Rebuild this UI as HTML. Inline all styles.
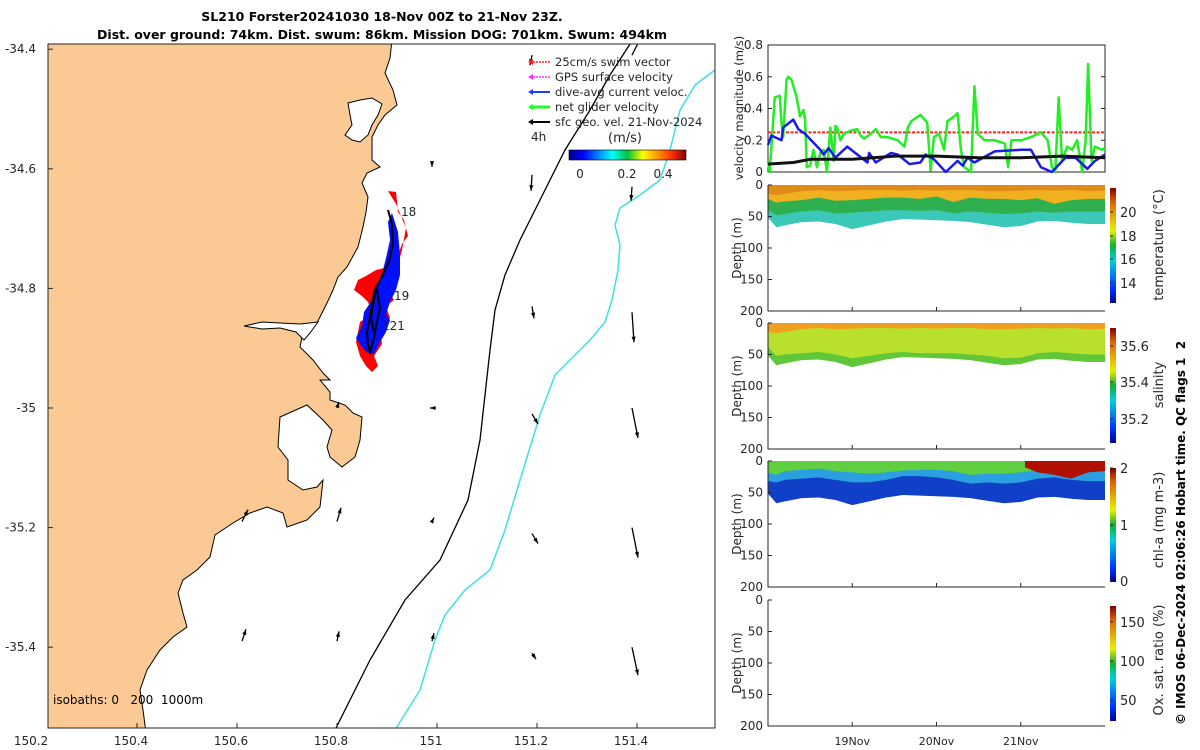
<!DOCTYPE html>
<html><head><meta charset="utf-8">
<style>
html,body{margin:0;padding:0;background:#fff;}
svg{display:block;font-family:"DejaVu Sans","Liberation Sans",sans-serif;}
text{fill:#262626;}
</style></head>
<body>
<svg id="fig" width="1200" height="750" viewBox="0 0 1200 750" xmlns="http://www.w3.org/2000/svg">
<defs>
<linearGradient id="jetH" x1="0" y1="0" x2="1" y2="0">
<stop offset="0" stop-color="#00008f"/><stop offset="0.12" stop-color="#0000ff"/><stop offset="0.37" stop-color="#00ffff"/><stop offset="0.5" stop-color="#00c040"/><stop offset="0.63" stop-color="#ffff00"/><stop offset="0.88" stop-color="#ff3000"/><stop offset="1" stop-color="#800000"/>
</linearGradient>
<linearGradient id="jetV" x1="0" y1="1" x2="0" y2="0">
<stop offset="0" stop-color="#00008f"/><stop offset="0.12" stop-color="#0030ff"/><stop offset="0.37" stop-color="#00d0e0"/><stop offset="0.5" stop-color="#10b030"/><stop offset="0.63" stop-color="#e8f000"/><stop offset="0.88" stop-color="#e06000"/><stop offset="1" stop-color="#800000"/>
</linearGradient>
</defs>

<text x="382" y="21" text-anchor="middle" font-size="12.5" font-weight="bold" style="fill:#000">SL210 Forster20241030 18-Nov 00Z to 21-Nov 23Z.</text>
<text x="382" y="39" text-anchor="middle" font-size="12.5" font-weight="bold" style="fill:#000">Dist. over ground: 74km. Dist. swum: 86km. Mission DOG: 701km. Swum: 494km</text>

<g id="map">
<clipPath id="mapclip"><rect x="48" y="44" width="667" height="684"/></clipPath>
<g clip-path="url(#mapclip)">
<polygon fill="#fbca94" stroke="#000" stroke-width="1" points="40,40 392,40 390,58 385,73 393,90 397,105 385,115 378,125 372,137 372,160 380,167 367,173 362,183 368,197 366,212 363,227 358,247 347,267 338,277 333,290 327,303 317,323 310,323 302,337 300,347 313,360 323,373 330,380 320,380 330,392 330,400 345,405 353,413 362,417 360,440 355,457 342,467 330,457 327,447 332,430 323,420 307,405 280,417 278,447 288,460 288,480 303,490 317,487 323,480 320,507 307,520 287,527 283,513 267,507 250,513 233,523 215,535 210,557 197,570 183,580 178,593 183,613 187,627 173,637 160,650 147,670 140,690 143,710 147,740 40,740"/>
<polygon fill="#fff" stroke="#000" stroke-width="1" points="348,103 360,100 372,98 382,104 378,115 372,125 368,135 360,142 352,140 345,135 352,125 350,115"/>
<polygon fill="#fff" stroke="#000" stroke-width="1" points="318,322 300,324 280,323 262,322 244,326 262,329 280,328 296,332 304,340 310,333"/>
<polyline fill="none" stroke="#000" stroke-width="1.3" points="335,730 370,660 405,600 440,560 468,500 480,440 485,395 490,350 495,310 505,275 520,240 545,190 565,150 590,110 610,75 630,44"/>
<polyline fill="none" stroke="#40e0e0" stroke-width="1.5" points="395,730 420,690 435,640 445,615 465,590 490,570 505,530 520,480 540,415 555,375 575,355 590,340 605,322 612,300 618,270 620,245 615,225 620,208 640,195 660,180 670,150 680,110 695,85 715,70"/>
<g id="quiver"></g>
<polygon fill="#ff0000" points="388,191 396,192 398,212 404,220 408,236 402,244 398,255 392,262 384,268 376,270 366,276 358,280 354,290 362,296 368,302 372,312 366,318 360,322 358,332 356,342 360,356 366,366 372,372 378,366 374,356 382,344 380,328 390,318 386,306 394,300 388,290 396,272 402,250 406,228 396,204"/>
<polygon fill="#0010ff" points="392,213 398,232 400,255 400,275 396,290 390,302 386,314 390,320 386,332 380,342 374,354 366,352 360,344 356,338 362,326 364,312 372,300 376,288 382,274 386,258 390,240 388,222"/>
<polyline fill="none" stroke="#000" stroke-width="2" points="388,210 392,224 393,244 389,262 380,280 374,292 372,305 370,318 367,332 368,345 370,352 374,338 377,322 380,308 378,296 376,286 374,300 371,318 374,332"/>
<text x="401" y="216" font-size="12">18</text>
<text x="394" y="300" font-size="12">19</text>
<text x="382" y="330" font-size="12">121</text>
<text x="53" y="704" font-size="12" style="fill:#000;white-space:pre" xml:space="preserve">isobaths: 0   200  1000m</text>
<g font-size="11.5">
<line x1="550" y1="62" x2="530" y2="62" stroke="#ff2020" stroke-width="1.5" stroke-dasharray="2,1"/><polygon points="528,62 533,59 533,65" fill="#ff2020"/>
<text x="555" y="66">25cm/s swim vector</text>
<line x1="550" y1="77" x2="530" y2="77" stroke="#ff30ff" stroke-width="1.5" stroke-dasharray="2,1"/><polygon points="528,77 533,74 533,80" fill="#ff30ff"/>
<text x="555" y="81">GPS surface velocity</text>
<line x1="550" y1="92" x2="530" y2="92" stroke="#2040ff" stroke-width="2"/><polygon points="528,92 533,89 533,95" fill="#2040ff"/>
<text x="555" y="96">dive-avg current veloc.</text>
<line x1="550" y1="107" x2="530" y2="107" stroke="#20ff20" stroke-width="3"/><polygon points="528,107 533,104 533,110" fill="#20ff20"/>
<text x="555" y="111">net glider velocity</text>
<line x1="550" y1="122" x2="530" y2="122" stroke="#000" stroke-width="2"/><polygon points="528,122 533,119 533,125" fill="#000"/>
<text x="555" y="126">sfc geo. vel. 21-Nov-2024</text>
<text x="531" y="141" font-size="12">4h</text>
<text x="608" y="142" font-size="13">(m/s)</text>
<rect x="569" y="150" width="117" height="10" fill="url(#jetH)" stroke="#000" stroke-width="0.6"/>
<text x="580" y="178" text-anchor="middle" font-size="12">0</text>
<text x="627" y="178" text-anchor="middle" font-size="12">0.2</text>
<text x="663" y="178" text-anchor="middle" font-size="12">0.4</text>
</g>
</g>
<rect x="48" y="44" width="667" height="684" fill="none" stroke="#262626" stroke-width="1"/>
<g id="mapticks" font-size="12"></g>
</g>

<g id="velpanel">
<rect x="768" y="45" width="337" height="127" fill="none" stroke="#262626"/>
<text transform="translate(743,108) rotate(-90)" text-anchor="middle" font-size="11.5">velocity magnitude (m/s)</text>
</g>
<g id="sections"></g>

<text transform="translate(1185,725) rotate(-90)" font-size="12" font-weight="bold" style="fill:#000;white-space:pre" xml:space="preserve">© IMOS 06-Dec-2024 02:06:26 Hobart time. QC flags 1  2</text>
</svg>

<script>
const tGreen=[0,0.02,0.06,0.08,0.14,0.16,0.18,0.22,0.24,0.28,0.34,0.38,0.42,0.44,0.46,0.50,0.54,0.58,0.62,0.66,0.70,0.74,0.78,0.80,0.82,0.86,0.90,0.98,1.06,1.10,1.14,1.22,1.28,1.34,1.42,1.54,1.62,1.66,1.70,1.81,1.89,1.93,1.97,2.03,2.09,2.13,2.21,2.25,2.29,2.33,2.41,2.45,2.49,2.57,2.69,2.81,2.85,2.89,3.01,3.12,3.24,3.32,3.37,3.41,3.45,3.49,3.55,3.61,3.67,3.73,3.77,3.80,3.84,3.88,3.96,4.0];
const vGreen=[0.07,0,0.31,0.47,0.48,0.31,0.22,0.58,0.60,0.58,0.47,0.35,0.39,0.33,0.03,0.04,0.14,0.03,0.12,0.14,0,0.28,0.07,0.29,0.28,0.20,0.24,0.26,0.27,0.23,0.21,0.24,0.27,0.22,0.22,0.20,0.16,0.28,0.32,0.36,0.31,0.01,0.22,0.24,0.14,0.32,0.35,0.37,0.14,0.03,0,0.54,0.24,0.20,0.20,0.18,0.03,0.20,0.20,0.22,0.25,0.20,0.03,0,0.47,0.07,0.16,0.14,0.20,0,0.20,0.68,0.07,0.16,0.14,0.15];
const tBlue=[0,0.04,0.16,0.18,0.30,0.36,0.44,0.62,0.66,0.72,0.80,0.94,1.18,1.20,1.28,1.46,1.54,1.68,1.81,1.87,1.97,2.11,2.25,2.31,2.37,2.45,2.69,3.01,3.12,3.24,3.37,3.53,3.65,3.73,3.79,3.88,4.0];
const vBlue=[0.17,0.23,0.20,0.28,0.33,0.27,0.24,0.14,0.11,0.15,0.09,0.16,0.06,0.12,0.06,0.12,0.11,0.05,0.06,0.11,0.08,0,0.07,0.04,0.09,0.06,0.13,0.14,0.14,0.03,0,0.09,0.09,0.05,0.02,0.07,0.11];
const tBlack=[0,0.3,0.5,1.0,1.5,2.0,2.5,3.0,3.5,4.0];
const vBlack=[0.05,0.06,0.08,0.08,0.10,0.10,0.09,0.09,0.10,0.09];
const swimSpeed=[0.25];
const velTicks=[0,0.2,0.4,0.6,0.8];

const secT=[0,0.1,0.2,0.4,0.6,0.8,1.0,1.2,1.4,1.6,1.8,2.0,2.2,2.4,2.6,2.8,3.0,3.2,3.4,3.6,3.8,4.0];
const bottomDepth=[52,67,64,59,58,62,70,64,58,54,55,56,57,59,63,67,65,58,57,60,62,62];
const tempWarmBase=[22,28,26,24,20,25,24,22,20,20,22,18,27,20,22,22,24,21,30,24,22,22];
const tempMidBase=[40,48,46,42,40,45,44,42,40,40,41,40,45,42,44,46,45,42,44,42,42,42];
const salTopBase=[14,16,14,10,8,10,9,8,8,9,8,9,8,8,10,10,9,8,9,8,10,9];
const salMidBase=[38,52,50,48,46,50,56,52,48,46,48,48,48,50,52,56,55,48,46,48,50,50];
const chlTopBase=[18,22,16,14,12,16,18,20,18,15,14,14,16,22,20,20,18,14,14,16,16,16];
const chlMidBase=[32,34,30,28,26,30,34,34,30,24,24,26,30,36,34,36,34,28,26,30,32,32];
const chlBloomT=[3.05,3.2,3.4,3.6,3.8,4.0];
const chlBloomDepth=[10,18,22,28,18,16];
const depthTicks=[0,50,100,150,200];
const dayTicks=[1,2,3];
const dayLabels=["19Nov","20Nov","21Nov"];

const lonTicks=[150.2,150.4,150.6,150.8,151,151.2,151.4];
const latTicks=[-34.4,-34.6,-34.8,-35,-35.2,-35.4];
const qLon=[151.19,151.39,150.99,151.19,151.39,151.19,151.39,150.80,150.99,151.19,151.39,150.61,150.80,150.99,151.19,151.39,150.61,150.80,150.99,151.19,151.39];
const qLat=[-34.41,-34.41,-34.59,-34.61,-34.63,-34.83,-34.84,-35.00,-35.00,-35.01,-35.00,-35.19,-35.19,-35.19,-35.21,-35.20,-35.39,-35.39,-35.39,-35.41,-35.40];
const qU=[-0.01,0.05,0.0,-0.005,-0.005,0.01,0.01,0.01,-0.01,0.03,0.03,0.03,0.02,0.01,0.03,0.03,0.02,0.01,0.01,0.02,0.03];
const qV=[-0.05,0.1,-0.02,-0.08,-0.07,-0.06,-0.15,0.03,0.0,-0.05,-0.15,0.06,0.07,0.02,-0.05,-0.15,0.06,0.05,0.04,-0.03,-0.14];

const NS="http://www.w3.org/2000/svg";
function mk(tag,attrs,parent){const e=document.createElementNS(NS,tag);for(const k in attrs)e.setAttribute(k,attrs[k]);parent.appendChild(e);return e;}

const X0=768,X1=1105;
const xT=t=>X0+(X1-X0)*t/4;
const yV=v=>172-v/0.8*127;
const lonX=lon=>437+(lon-151)*500;
const latY=lat=>408-(lat+35)*598;

const mt=document.getElementById('mapticks');
lonTicks.forEach(l=>{const x=lonX(l);
 if(x>48){const tk=mk('line',{x1:x,y1:728,x2:x,y2:723,stroke:'#262626'},mt);}
 const t=mk('text',{x:x-6,y:745,'text-anchor':'middle'},mt);t.textContent=String(l);
 });
latTicks.forEach(l=>{const y=latY(l);
 const tk=mk('line',{x1:48,y1:y,x2:53,y2:y,stroke:'#262626'},mt);
 const t=mk('text',{x:36,y:y+4,'text-anchor':'end'},mt);t.textContent=String(l);
 });

const qg=document.getElementById('quiver');
qLon.forEach((lo,i)=>{const x=lonX(lo),y=latY(qLat[i]);const x2=x+qU[i]*200,y2=y-qV[i]*200;
 const ln=mk('line',{x1:x,y1:y,x2:x2,y2:y2,stroke:'#000','stroke-width':1.3},qg);
 
 const a=Math.atan2(y2-y,x2-x),h=6;
 const p=mk('polygon',{points:`${x2},${y2} ${x2-h*Math.cos(a-0.35)},${y2-h*Math.sin(a-0.35)} ${x2-h*Math.cos(a+0.35)},${y2-h*Math.sin(a+0.35)}`,fill:'#000'},qg);
 });

const vp=document.getElementById('velpanel');
velTicks.forEach(v=>{const y=yV(v);
 mk('line',{x1:768,y1:y,x2:772,y2:y,stroke:'#262626'},vp);
 mk('line',{x1:1105,y1:y,x2:1101,y2:y,stroke:'#262626'},vp);
 const t=mk('text',{x:763,y:y+4,'text-anchor':'end','font-size':12},vp);t.textContent=String(v);
 });
const sw=mk('line',{x1:xT(0),y1:yV(swimSpeed[0]),x2:xT(4),y2:yV(swimSpeed[0]),stroke:'#ff2020','stroke-width':2,'stroke-dasharray':'3,1.5'},vp);

function series(ts,vs,col,w,name){const pts=ts.map((t,i)=>xT(t)+','+yV(vs[i])).join(' ');
 const p=mk('polyline',{points:pts,fill:'none',stroke:col,'stroke-width':w,'stroke-linejoin':'round'},vp);
 }
series(tGreen,vGreen,'#22ee22',2.5,'net-glider-velocity-line');
series(tBlue,vBlue,'#1a1aee',2.5,'dive-avg-current-line');
series(tBlack,vBlack,'#111',3,'geo-velocity-line');

const sg=document.getElementById('sections');
const panels=[
 {top:185,name:'temperature',label:'temperature (°C)',cbTicks:[[20,212],[18,236],[16,259],[14,283]],cbY:[188,303],labY:245},
 {top:323,name:'salinity',label:'salinity',cbTicks:[["35.6",346],["35.4",382],["35.2",419]],cbY:[328,443],labY:385},
 {top:461,name:'chl-a',label:'chl-a (mg m-3)',cbTicks:[[2,468],[1,525],[0,581]],cbY:[468,582],labY:520},
 {top:600,name:'oxygen',label:'Ox. sat. ratio (%)',cbTicks:[[150,622],[100,661],[50,700]],cbY:[606,721],labY:660}
];
function band(panel,upper,lower,col,name){
 const yd=d=>panel.top+d*(126/200);
 const pts=secT.map((t,i)=>xT(t)+','+yd(typeof upper==='number'?upper:upper[i])).concat(secT.slice().reverse().map((t,j)=>{const i=secT.length-1-j;return xT(t)+','+yd(lower[i]);})).join(' ');
 const p=mk('polygon',{points:pts,fill:col},sg);
 }
panels.forEach((P,pi)=>{
 const yd=d=>P.top+d*(126/200);
 if(pi===0){band(P,0,bottomDepth,'#3cc8b8','temp-deep-band');band(P,0,tempMidBase,'#2fb050','temp-mid-band');band(P,0,tempWarmBase,'#f0b020','temp-warm-band');band(P,0,salTopBase,'#e08a18','temp-surface-band');}
 if(pi===1){band(P,0,bottomDepth,'#60c838','sal-deep-band');band(P,0,salMidBase,'#b8e02c','sal-mid-band');band(P,0,salTopBase,'#f0a020','sal-top-band');}
 if(pi===2){band(P,0,bottomDepth,'#1040c8','chl-deep-band');band(P,0,chlMidBase,'#2aa0e0','chl-mid-band');band(P,0,chlTopBase,'#60d040','chl-top-band');
  const pts=chlBloomT.map((t,i)=>xT(t)+','+yd(chlBloomDepth[i])).concat([xT(4)+','+yd(0),xT(chlBloomT[0])+','+yd(0)]).join(' ');
  const b=mk('polygon',{points:pts,fill:'#b01000'},sg);}
 const ax=mk('polyline',{points:`768,${P.top} 768,${P.top+126} 1105,${P.top+126}`,fill:'none',stroke:'#262626'},sg);
 
 depthTicks.forEach(d=>{const y=yd(d);mk('line',{x1:768,y1:y,x2:772,y2:y,stroke:'#262626'},sg);
  const t=mk('text',{x:763,y:y+4,'text-anchor':'end','font-size':12},sg);t.textContent=String(d);
  });
 const yl=mk('text',{transform:`translate(741,${P.top+63}) rotate(-90)`,'text-anchor':'middle','font-size':12},sg);yl.textContent='Depth (m)';
 
 dayTicks.forEach(d=>{mk('line',{x1:xT(d),y1:P.top+126,x2:xT(d),y2:P.top+122,stroke:'#262626'},sg);});
 const cb=mk('rect',{x:1110,y:P.cbY[0],width:6,height:P.cbY[1]-P.cbY[0],fill:'url(#jetV)'},sg);
 
 P.cbTicks.forEach(tk=>{mk('line',{x1:1110,y1:tk[1],x2:1113,y2:tk[1],stroke:'#262626'},sg);
  const t=mk('text',{x:1120,y:tk[1]+5,'font-size':13},sg);t.textContent=String(tk[0]);
  });
 const cl=mk('text',{transform:`translate(1163,${P.labY}) rotate(-90)`,'text-anchor':'middle','font-size':13},sg);cl.textContent=P.label;
 
});
dayTicks.forEach((d,i)=>{const t=mk('text',{x:xT(d),y:745,'text-anchor':'middle','font-size':11},sg);t.textContent=dayLabels[i];
 });
</script>
</body></html>
